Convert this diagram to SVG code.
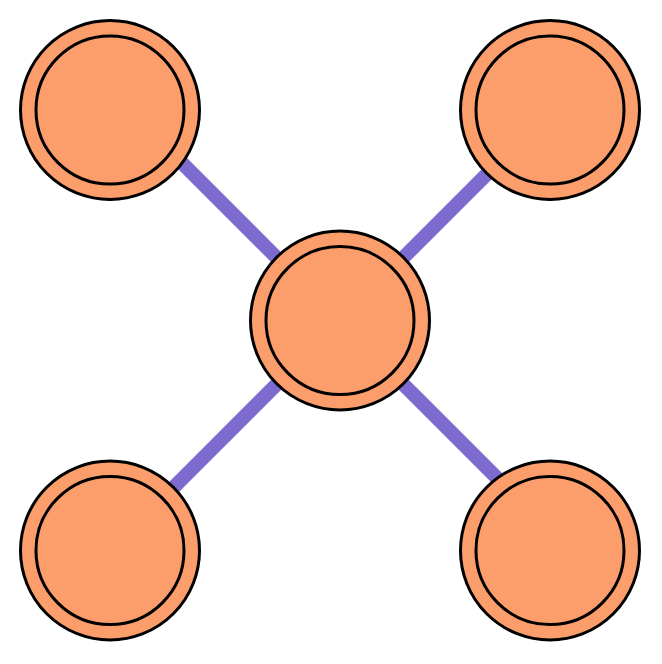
<svg xmlns="http://www.w3.org/2000/svg" width="662" height="664" viewBox="0 0 662 664">
<style>
.edge{stroke:#7e6bcf;stroke-width:14;fill:none}
.outer{fill:#fc9d6c;stroke:#000;stroke-width:3}
.inner{fill:#fc9d6c;stroke:#000;stroke-width:3}
</style>
<rect width="662" height="664" fill="#fff"/>
<g id="connectors">
<line class="edge" x1="120" y1="101" x2="340" y2="321"/>
<line class="edge" x1="560" y1="101" x2="340" y2="321"/>
<line class="edge" x1="110" y1="551" x2="340" y2="321"/>
<line class="edge" x1="560" y1="541" x2="340" y2="321"/>
</g>
<g id="node-tl"><circle class="outer" cx="110" cy="110" r="89.5"/><circle class="inner" cx="110" cy="110" r="74"/></g>
<g id="node-tr"><circle class="outer" cx="550" cy="110" r="89.5"/><circle class="inner" cx="550" cy="110" r="74"/></g>
<g id="node-c"><circle class="outer" cx="340" cy="320.5" r="89.5"/><circle class="inner" cx="340" cy="320.5" r="74"/></g>
<g id="node-bl"><circle class="outer" cx="110" cy="550.5" r="89.5"/><circle class="inner" cx="110" cy="550.5" r="74"/></g>
<g id="node-br"><circle class="outer" cx="550" cy="550.5" r="89.5"/><circle class="inner" cx="550" cy="550.5" r="74"/></g>
</svg>
